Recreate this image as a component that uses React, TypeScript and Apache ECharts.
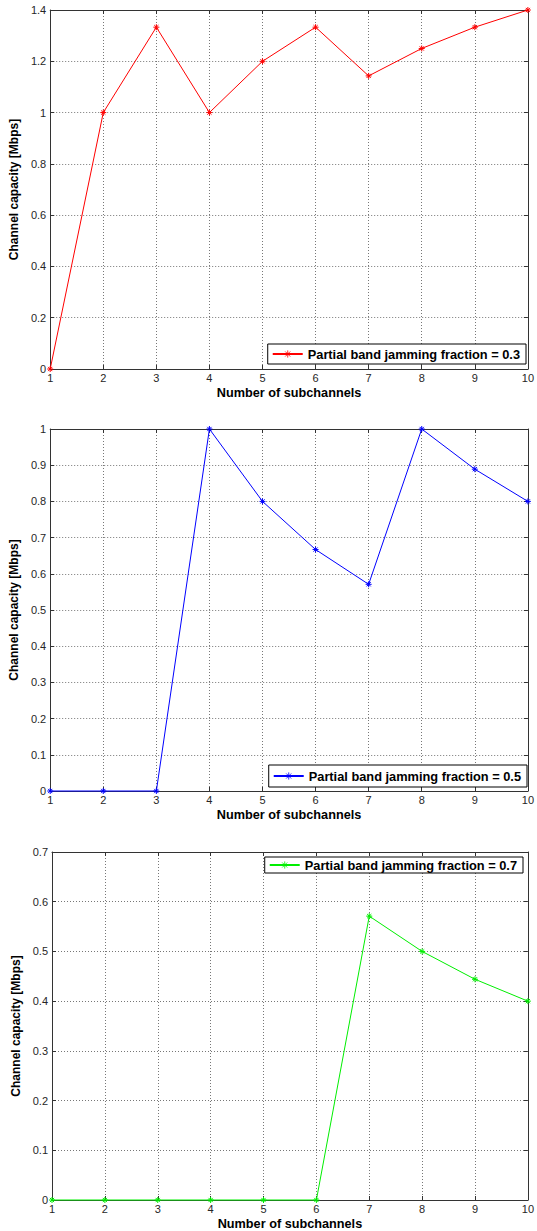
import React, { useEffect, useRef } from "react";
import * as echarts from "echarts";

const subchannels = [1, 2, 3, 4, 5, 6, 7, 8, 9, 10];
const capacity03 = [0, 1, 1.333, 1, 1.2, 1.333, 1.143, 1.25, 1.333, 1.4];
const capacity05 = [0, 0, 0, 1, 0.8, 0.667, 0.571, 1, 0.889, 0.8];
const capacity07 = [0, 0, 0, 0, 0, 0, 0.571, 0.5, 0.444, 0.4];
const seriesNames = [
  "Partial band jamming fraction = 0.3",
  "Partial band jamming fraction = 0.5",
  "Partial band jamming fraction = 0.7",
];
const seriesColors = ["#ff0000", "#0000ff", "#00ee00"];
const yMaxes = [1.4, 1, 0.7];
const ySteps = [0.2, 0.1, 0.1];
const xTitle = "Number of subchannels";
const yTitle = "Channel capacity [Mbps]";

const FONT = "'Liberation Sans', Arial, Helvetica, sans-serif";
const ASTERISK =
  "path://M0,-1L0,1M-1,0L1,0M-0.7,-0.7L0.7,0.7M-0.7,0.7L0.7,-0.7";

export default function App() {
  const ref = useRef<HTMLDivElement>(null);
  useEffect(() => {
    if (!ref.current) return;
    const chart = echarts.init(ref.current, null, { renderer: "svg" });
    const W = 537;
    const H = 1231;
    const grids = [
      { left: 46, top: 10, right: W - 532, bottom: H - 369 },
      { left: 42, top: 429, right: W - 533, bottom: H - 791 },
      { left: 52, top: 852, right: W - 529, bottom: H - 1202 },
    ];
    const allData = [capacity03, capacity05, capacity07];
    const legendPos = [
      { top: 344, right: 11, padding: [2, 6, 2, 4] },
      { top: 765, right: 10, padding: [3, 6, 3, 4] },
      { top: 857, right: 14, padding: [0, 6, 0, 4] },
    ];
    const xAxes: any[] = [];
    const yAxes: any[] = [];
    grids.forEach((_, i) => {
      xAxes.push({
        type: "value",
        gridIndex: i,
        min: 1,
        max: 10,
        interval: 1,
        position: "bottom",
        name: xTitle,
        nameLocation: "middle",
        nameGap: 17,
        nameTextStyle: { fontFamily: FONT, fontSize: 12.7, fontWeight: "bold", color: "#000" },
        axisLine: { show: true, onZero: false, lineStyle: { color: "#333", width: 1 } },
        axisTick: { show: true, inside: true, length: 4, lineStyle: { color: "#333" } },
        axisLabel: { fontFamily: FONT, fontSize: 11, color: "#262626", margin: 3 },
        splitLine: { show: true, lineStyle: { color: "#777", type: [1, 2], width: 1 } },
      });
      xAxes.push({
        type: "value",
        gridIndex: i,
        min: 1,
        max: 10,
        interval: 1,
        position: "top",
        axisLine: { show: true, onZero: false, lineStyle: { color: "#333", width: 1 } },
        axisTick: { show: true, inside: true, length: 4, lineStyle: { color: "#333" } },
        axisLabel: { show: false },
        splitLine: { show: false },
      });
      yAxes.push({
        type: "value",
        gridIndex: i,
        min: 0,
        max: yMaxes[i],
        interval: ySteps[i],
        position: "left",
        name: yTitle,
        nameLocation: "middle",
        nameGap: 22,
        nameTextStyle: { fontFamily: FONT, fontSize: 12, fontWeight: "bold", color: "#000" },
        axisLine: { show: true, onZero: false, lineStyle: { color: "#333", width: 1 } },
        axisTick: { show: true, inside: true, length: 4, lineStyle: { color: "#333" } },
        axisLabel: { fontFamily: FONT, fontSize: 11, color: "#262626", margin: 4 },
        splitLine: { show: true, lineStyle: { color: "#777", type: [1, 2], width: 1 } },
      });
      yAxes.push({
        type: "value",
        gridIndex: i,
        min: 0,
        max: yMaxes[i],
        interval: ySteps[i],
        position: "right",
        axisLine: { show: true, onZero: false, lineStyle: { color: "#333", width: 1 } },
        axisTick: { show: true, inside: true, length: 4, lineStyle: { color: "#333" } },
        axisLabel: { show: false },
        splitLine: { show: false },
      });
    });
    const series = allData.map((vals, i) => ({
      type: "line",
      name: seriesNames[i],
      xAxisIndex: i * 2,
      yAxisIndex: i * 2,
      data: subchannels.map((x, k) => [x, vals[k]]),
      symbol: ASTERISK,
      symbolSize: 6,
      showSymbol: true,
      clip: false,
      lineStyle: { color: seriesColors[i], width: 1 },
      itemStyle: { color: seriesColors[i], borderColor: seriesColors[i], borderWidth: 1 },
    }));
    const legends = seriesNames.map((n, i) => ({
      data: [n],
      top: legendPos[i].top,
      right: legendPos[i].right,
      padding: legendPos[i].padding,
      backgroundColor: "#fff",
      borderColor: "#000",
      borderWidth: 1,
      borderRadius: 0,
      itemWidth: 30,
      itemHeight: 9,
      itemGap: 4,
      selectedMode: false,
      itemStyle: { borderWidth: 0.8 },
      textStyle: { fontFamily: FONT, fontSize: 12.8, fontWeight: "bold", color: "#000", lineHeight: 16 },
    }));
    chart.setOption({
      animation: false,
      backgroundColor: "#fff",
      grid: grids,
      xAxis: xAxes,
      yAxis: yAxes,
      legend: legends,
      series,
    });
    return () => chart.dispose();
  }, []);
  return (
    <div
      ref={ref}
      style={{ position: "absolute", left: 0, top: 0, width: 537, height: 1231 }}
    />
  );
}
